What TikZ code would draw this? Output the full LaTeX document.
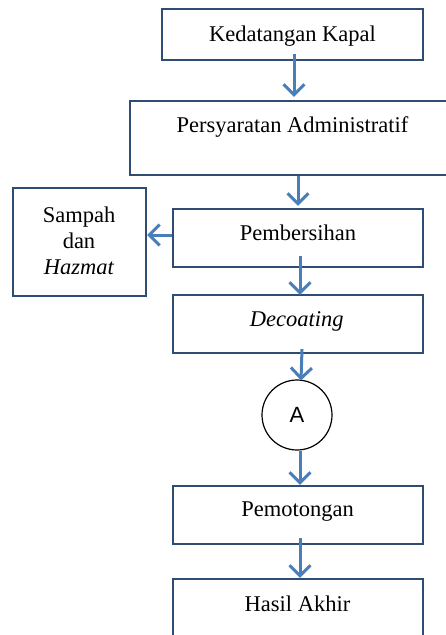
\documentclass[tikz,border=0pt]{standalone}
\usepackage{fontspec}
\setmainfont{Liberation Serif}
\newfontfamily\arialfont{Liberation Sans}
\usetikzlibrary{arrows.meta}
\definecolor{boxline}{HTML}{2E4C74}
\definecolor{arrowblue}{HTML}{4A7EBB}
\begin{document}
\begin{tikzpicture}[x=1pt,y=-1pt,
  box/.style={draw=boxline, line width=2.2pt, rectangle, inner sep=0pt},
  txt/.style={inner sep=0pt, anchor=base, font=\fontsize{22.5}{25.7}\selectfont},
  arr/.style={draw=arrowblue, line width=3pt, -{Straight Barb[length=10.5pt,width=21pt,line width=3pt]}}]
\clip (0,0) rectangle (446,635);
\fill[white] (0,0) rectangle (446,635);
% boxes
\node[box, minimum width=261pt, minimum height=51pt] (b1) at (292.5,34.5) {};
\node[box, minimum width=330pt, minimum height=74pt] (b2) at (295,138) {};
\node[box, minimum width=250pt, minimum height=58pt] (b3) at (298,238) {};
\node[box, minimum width=133pt, minimum height=108pt] (sb) at (79.5,242) {};
\node[box, minimum width=250pt, minimum height=58pt] (b4) at (298,324) {};
\node[draw=black, line width=1.2pt, circle, minimum size=70pt, inner sep=0pt] (cA) at (297,415) {};
\node[box, minimum width=250pt, minimum height=58pt] (b5) at (298,515) {};
\node[box, minimum width=250pt, minimum height=80pt] (b6) at (298,619) {};
% texts
\node[txt] (t1) at (292.5,41) {Kedatangan Kapal};
\node[txt] (t2) at (292.5,132) {Persyaratan Administratif};
\node[txt] (t3) at (298,240) {Pembersihan};
\node[txt, anchor=center, align=center] (ts) at (79,241) {Sampah\\dan\\\textit{Hazmat}};
\node[txt] (t4) at (296.7,326) {\textit{Decoating}};
\node[txt, font=\arialfont\fontsize{22}{24}\selectfont] (tA) at (297,422.3) {A};
\node[txt] (t5) at (297.5,516.7) {Pemotongan};
\node[txt] (t6) at (297.5,611) {Hasil Akhir};
% arrows
\draw[arr] ([xshift=1.5pt,yshift=7pt]b1.south) -- ([xshift=-1pt,yshift=3pt]b2.north);
\draw[arr] ([xshift=3pt]b2.south) -- ([yshift=2pt]b3.north);
\draw[arr] ([xshift=2pt,yshift=12pt]b3.south) -- ([xshift=2pt,yshift=-1pt]b4.north);
\draw[arr] ([yshift=3pt]b3.west) -- ([yshift=7pt]sb.east);
\draw[arr] ([xshift=4pt,yshift=5pt]b4.south) -- ([xshift=4pt,yshift=-1pt]cA.north);
\draw[arr] ([xshift=3pt]cA.south) -- ([xshift=2pt]b5.north);
\draw[arr] ([xshift=2pt,yshift=7pt]b5.south) -- ([xshift=2pt]b6.north);
\end{tikzpicture}
\end{document}
